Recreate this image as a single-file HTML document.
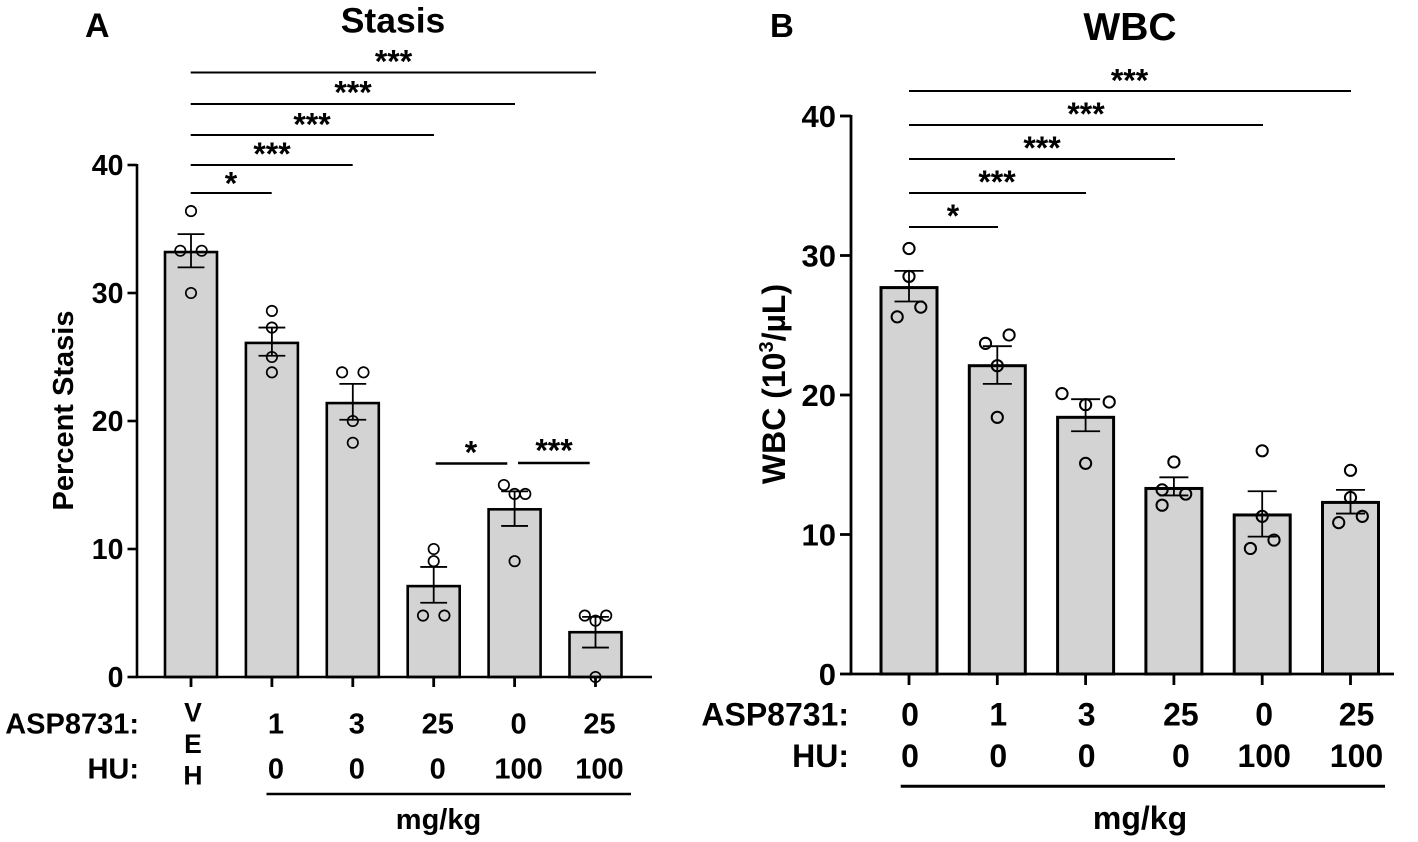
<!DOCTYPE html>
<html>
<head>
<meta charset="utf-8">
<style>
html,body{margin:0;padding:0;background:#fff;width:1418px;height:842px;overflow:hidden}
svg{display:block}
text{font-family:"Liberation Sans",sans-serif;font-weight:bold;fill:#000}
</style>
</head>
<body>
<svg id="figure" width="1418" height="842" viewBox="0 0 1418 842" xmlns="http://www.w3.org/2000/svg">
  <rect width="1418" height="842" fill="#fff"/>
  <g id="panelA">
    <text x="85" y="37" font-size="34">A</text>
    <text x="393" y="32.5" font-size="35.5" text-anchor="middle">Stasis</text>
    <text transform="translate(73,410.5) rotate(-90)" font-size="29" text-anchor="middle">Percent Stasis</text>
    <text x="139" y="733.5" font-size="29" text-anchor="end">ASP8731:</text>
    <text x="139" y="778.5" font-size="29" text-anchor="end">HU:</text>
    <text x="193" y="721.5" font-size="26.5" text-anchor="middle">V</text>
    <text x="193" y="753" font-size="26.5" text-anchor="middle">E</text>
    <text x="193" y="784.5" font-size="26.5" text-anchor="middle">H</text>
    <line x1="266.5" y1="794" x2="631" y2="794" stroke="#000" stroke-width="2.5"/>
    <text x="438.5" y="829" font-size="29" text-anchor="middle">mg/kg</text>
    <g stroke="#000">
      <line x1="190.7" y1="72.5" x2="596" y2="72.5" stroke-width="2"/>
      <line x1="190.7" y1="104" x2="515" y2="104" stroke-width="2"/>
      <line x1="190.7" y1="135" x2="434" y2="135" stroke-width="2"/>
      <line x1="190.7" y1="165" x2="352.7" y2="165" stroke-width="2"/>
      <line x1="190.7" y1="193" x2="271.7" y2="193" stroke-width="2"/>
      <line x1="435.7" y1="463.5" x2="507.3" y2="463.5" stroke-width="2.6"/>
      <line x1="518" y1="463" x2="589.7" y2="463" stroke-width="2.6"/>
    </g>
    <g>
      <text x="393.5" y="72.5" font-size="32" text-anchor="middle">***</text>
      <text x="353" y="103.7" font-size="32" text-anchor="middle">***</text>
      <text x="312" y="135.4" font-size="32" text-anchor="middle">***</text>
      <text x="272" y="165" font-size="32" text-anchor="middle">***</text>
      <text x="231" y="194.4" font-size="32" text-anchor="middle">*</text>
      <text x="471" y="463.4" font-size="32" text-anchor="middle">*</text>
      <text x="554" y="461.4" font-size="32" text-anchor="middle">***</text>
    </g>
  </g>
  <g id="panelB">
    <text x="770" y="37" font-size="33">B</text>
    <text x="1130" y="40" font-size="39" text-anchor="middle">WBC</text>
    <text transform="translate(785,384) rotate(-90)" font-size="32" text-anchor="middle">WBC (10<tspan font-size="20" dy="-12">3</tspan><tspan dy="12">/µL)</tspan></text>
    <text x="849" y="725.5" font-size="32" text-anchor="end">ASP8731:</text>
    <text x="849" y="767" font-size="32" text-anchor="end">HU:</text>
    <line x1="900.7" y1="786.3" x2="1385" y2="786.3" stroke="#000" stroke-width="3"/>
    <text x="1140" y="829" font-size="32" text-anchor="middle">mg/kg</text>
    <g stroke="#000">
      <line x1="909" y1="91" x2="1351" y2="91" stroke-width="2"/>
      <line x1="909" y1="125" x2="1263" y2="125" stroke-width="2"/>
      <line x1="909" y1="159" x2="1175" y2="159" stroke-width="2"/>
      <line x1="909" y1="193" x2="1086" y2="193" stroke-width="2"/>
      <line x1="909" y1="227" x2="998" y2="227" stroke-width="2"/>
    </g>
    <g>
      <text x="1129.5" y="91.5" font-size="32" text-anchor="middle">***</text>
      <text x="1086" y="125" font-size="32" text-anchor="middle">***</text>
      <text x="1042" y="159" font-size="32" text-anchor="middle">***</text>
      <text x="997" y="193" font-size="32" text-anchor="middle">***</text>
      <text x="953" y="227" font-size="32" text-anchor="middle">*</text>
    </g>
  </g>
</svg>
<script>
// Shared axis ticks
var yTicks = [0, 10, 20, 30, 40];

// Panel A: Stasis
var stasisMeans = [33.2, 26.1, 21.4, 7.1, 13.1, 3.5];
var stasisErrHigh = [34.6, 27.3, 22.9, 8.6, 14.5, 4.7];
var stasisErrLow = [32.0, 25.1, 20.1, 5.8, 11.8, 2.3];
var stasisPoints = [
  [36.4, 33.3, 33.3, 30.0],
  [28.6, 27.3, 25.0, 23.8],
  [23.8, 23.8, 20.0, 18.3],
  [10.0, 9.05, 4.8, 4.8],
  [15.0, 14.3, 14.3, 9.05],
  [4.8, 4.8, 4.4, 0.0]
];
// Swarm slot of each point: -1 left, 0 centre, 1 right
var stasisSlots = [
  [0, -1, 1, 0],
  [0, 0, 0, 0],
  [-1, 1, 0, 0],
  [0, 0, -1, 1],
  [-1, 0, 1, 0],
  [-1, 1, 0, 0]
];
var stasisAsp = ['', '1', '3', '25', '0', '25'];
var stasisHu = ['', '0', '0', '0', '100', '100'];

// Panel B: WBC
var wbcMeans = [27.7, 22.1, 18.4, 13.3, 11.4, 12.3];
var wbcErrHigh = [28.9, 23.5, 19.7, 14.1, 13.1, 13.2];
var wbcErrLow = [26.7, 20.8, 17.4, 12.8, 9.85, 11.5];
var wbcPoints = [
  [30.5, 28.5, 26.3, 25.6],
  [24.3, 23.7, 22.1, 18.4],
  [20.1, 19.5, 19.3, 15.1],
  [15.2, 13.2, 12.9, 12.1],
  [16.0, 11.3, 9.6, 9.0],
  [14.6, 12.65, 11.3, 10.85]
];
var wbcSlots = [
  [0, 0, 1, -1],
  [1, -1, 0, 0],
  [-2, 2, 0, 0],
  [0, -1, 1, -1],
  [0, 0, 1, -1],
  [0, 0, 1, -1]
];
var wbcAsp = ['0', '1', '3', '25', '0', '25'];
var wbcHu = ['0', '0', '0', '0', '100', '100'];

var NS = 'http://www.w3.org/2000/svg';
function mk(tag, attrs, parent) {
  var el = document.createElementNS(NS, tag);
  for (var k in attrs) el.setAttribute(k, attrs[k]);
  parent.appendChild(el);
  return el;
}

function drawPanel(root, cfg, means, hi, lo, pts, slots, asp, hu) {
  function xPos(i) { return cfg.x0 + cfg.step * i; }
  function yPos(v) { return cfg.yZero - v * cfg.yScale; }

  means.forEach(function (m, i) {
    var x = xPos(i);
    var bar = mk('rect', {x: x - cfg.halfBar, y: yPos(m), width: cfg.halfBar * 2, height: cfg.yZero - yPos(m), fill: '#d3d3d3', stroke: '#000', 'stroke-width': cfg.barStroke}, root);
    
    

    var stem = mk('line', {x1: x, x2: x, y1: yPos(hi[i]), y2: yPos(lo[i]), stroke: '#000', 'stroke-width': 1.8}, root);
    
    
    var capHi = mk('line', {x1: x - cfg.cap, x2: x + cfg.cap, y1: yPos(hi[i]), y2: yPos(hi[i]), stroke: '#000', 'stroke-width': 1.8}, root);
    
    
    var capLo = mk('line', {x1: x - cfg.cap, x2: x + cfg.cap, y1: yPos(lo[i]), y2: yPos(lo[i]), stroke: '#000', 'stroke-width': 1.8}, root);
    
    

    pts[i].forEach(function (v, j) {
      var c = mk('circle', {cx: x + slots[i][j] * cfg.slot, cy: yPos(v), r: cfg.radius, fill: 'none', stroke: '#000', 'stroke-width': cfg.pointStroke}, root);
      
      
    });

    var tick = mk('line', {x1: x, x2: x, y1: cfg.yZero, y2: cfg.yZero + cfg.xTickLen, stroke: '#000', 'stroke-width': 2.8}, root);
    
    

    if (asp[i] !== '') {
      var a = mk('text', {x: x + cfg.labelNudge(i), y: cfg.aspY, 'font-size': cfg.rowFont, 'text-anchor': 'middle'}, root);
      a.textContent = asp[i];
      
      
    }
    if (hu[i] !== '') {
      var h = mk('text', {x: x + cfg.labelNudge(i), y: cfg.huY, 'font-size': cfg.rowFont, 'text-anchor': 'middle'}, root);
      h.textContent = hu[i];
      
      
    }
  });

  var yAxis = mk('line', {x1: cfg.axisX, x2: cfg.axisX, y1: yPos(yTicks[yTicks.length - 1]) - 1, y2: cfg.yZero + 1, stroke: '#000', 'stroke-width': cfg.axisStroke}, root);
  
  
  var xAxis = mk('line', {x1: cfg.axisX - cfg.axisStroke / 2, x2: cfg.axisEnd, y1: cfg.yZero, y2: cfg.yZero, stroke: '#000', 'stroke-width': cfg.axisStroke}, root);
  
  

  yTicks.forEach(function (t) {
    var tk = mk('line', {x1: cfg.axisX - cfg.yTickLen, x2: cfg.axisX, y1: yPos(t), y2: yPos(t), stroke: '#000', 'stroke-width': cfg.axisStroke}, root);
    
    
    var lb = mk('text', {x: cfg.axisX - cfg.yTickLen - cfg.labelGap, y: yPos(t) + cfg.yFont * 0.35, 'font-size': cfg.yFont, 'text-anchor': 'end'}, root);
    lb.textContent = t;
    
    
  });
}

drawPanel(document.getElementById('panelA'), {
  x0: 191, step: 80.9, halfBar: 26, yZero: 677, yScale: 12.8, barStroke: 2.6, cap: 13.4, slot: 10.7, radius: 5.2, pointStroke: 1.7,
  xTickLen: 10, yTickLen: 9.5, labelGap: 4, axisX: 137, axisEnd: 652, axisStroke: 2.6, yFont: 28.5, rowFont: 29, aspY: 733.5, huY: 778.5,
  labelNudge: function () { return 4; }
}, stasisMeans, stasisErrHigh, stasisErrLow, stasisPoints, stasisSlots, stasisAsp, stasisHu);

drawPanel(document.getElementById('panelB'), {
  x0: 909, step: 88.3, halfBar: 28, yZero: 674, yScale: 13.95, barStroke: 3, cap: 14.5, slot: 11.8, radius: 5.6, pointStroke: 2,
  xTickLen: 11, yTickLen: 11, labelGap: 4, axisX: 851, axisEnd: 1394, axisStroke: 2.8, yFont: 31, rowFont: 32, aspY: 725.5, huY: 767,
  labelNudge: function (i) { return i === 3 ? 7 : (i === 5 ? 6 : (i === 4 ? 2 : 1)); }
}, wbcMeans, wbcErrHigh, wbcErrLow, wbcPoints, wbcSlots, wbcAsp, wbcHu);
</script>
</body>
</html>
